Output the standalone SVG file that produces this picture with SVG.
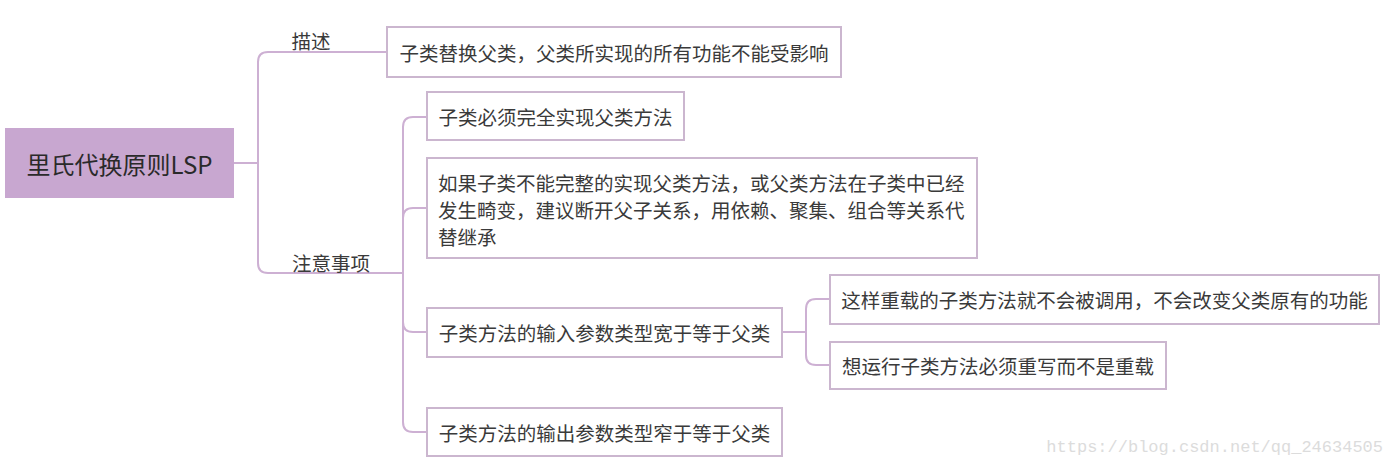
<svg xmlns="http://www.w3.org/2000/svg" width="1393" height="466" viewBox="0 0 1393 466">
<style>
.box{fill:#ffffff;stroke:#cbb6cf;stroke-width:2}
.t{font-family:"Microsoft YaHei","Noto Sans CJK SC",sans-serif;font-size:19.5px;fill:#3a3a3a;dominant-baseline:central}
.c{text-anchor:middle}
.con{fill:none;stroke:#cdb0d3;stroke-width:2}
</style>
<rect width="1393" height="466" fill="#ffffff"/>
<g id="connectors">
<path class="con" d="M234,163 H258"/>
<path class="con" d="M258,163 V62 Q258,52 268,52 H387"/>
<path class="con" d="M258,163 V263 Q258,273 268,273 H403"/>
<path class="con" d="M403,273 V127 Q403,117 413,117 H427"/>
<path class="con" d="M403,273 V218 Q403,208 413,208 H427"/>
<path class="con" d="M403,273 V322 Q403,332 413,332 H427"/>
<path class="con" d="M403,273 V422 Q403,432 413,432 H427"/>
<path class="con" d="M782,332 H806"/>
<path class="con" d="M806,332 V309 Q806,299 816,299 H830"/>
<path class="con" d="M806,332 V355 Q806,365 816,365 H830"/>
</g>
<g id="root">
<rect x="5" y="128" width="229" height="70" fill="#c8a7d0"/>
<text class="t c" x="119.5" y="163" style="font-size:24px;fill:#2a2a2a">里氏代换原则LSP</text>
</g>
<g id="label-desc">
<text class="t c" x="311" y="40">描述</text>
</g>
<g id="label-notes">
<text class="t c" x="331" y="262">注意事项</text>
</g>
<g id="n1">
<rect class="box" x="387" y="27" width="454" height="50"/>
<text class="t c" x="614" y="52">子类替换父类，父类所实现的所有功能不能受影响</text>
</g>
<g id="n2">
<rect class="box" x="427" y="92" width="257" height="48"/>
<text class="t c" x="555.5" y="116.5">子类必须完全实现父类方法</text>
</g>
<g id="n3">
<rect class="box" x="427" y="158" width="550" height="100"/>
<text class="t" x="438" y="182">如果子类不能完整的实现父类方法，或父类方法在子类中已经</text>
<text class="t" x="438" y="209">发生畸变，建议断开父子关系，用依赖、聚集、组合等关系代</text>
<text class="t" x="438" y="236">替继承</text>
</g>
<g id="n4">
<rect class="box" x="427" y="308" width="355" height="49"/>
<text class="t c" x="604.5" y="332.5">子类方法的输入参数类型宽于等于父类</text>
</g>
<g id="n5">
<rect class="box" x="427" y="408" width="355" height="48"/>
<text class="t c" x="604.5" y="432">子类方法的输出参数类型窄于等于父类</text>
</g>
<g id="n6">
<rect class="box" x="830" y="275" width="549" height="49"/>
<text class="t c" x="1104.5" y="299.5">这样重载的子类方法就不会被调用，不会改变父类原有的功能</text>
</g>
<g id="n7">
<rect class="box" x="830" y="342" width="336" height="47"/>
<text class="t c" x="998" y="365.5">想运行子类方法必须重写而不是重载</text>
</g>
<g id="watermark">
<text x="1383" y="452" text-anchor="end" style="font-family:'Liberation Mono',monospace;font-size:17px;fill:#dcdcdc">https://blog.csdn.net/qq_24634505</text>
</g>
</svg>
